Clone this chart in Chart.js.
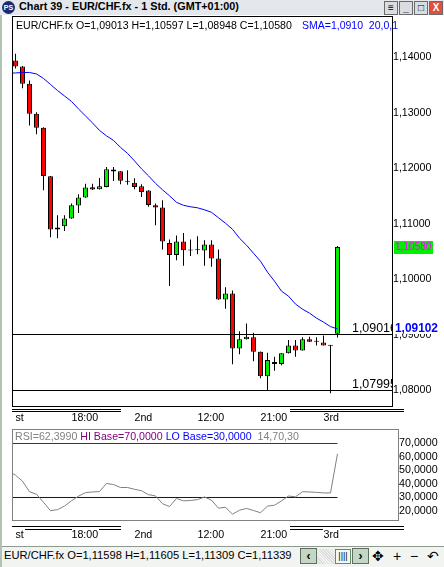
<!DOCTYPE html>
<html>
<head>
<meta charset="utf-8">
<script src="https://cdn.jsdelivr.net/npm/chart.js@4.4.1/dist/chart.umd.min.js"></script>
<style>
  html, body { margin: 0; padding: 0; background: #fff; }
  body { width: 444px; height: 567px; position: relative; overflow: hidden; font-family: 'Liberation Sans', Arial, sans-serif; }
  .abs { position: absolute; white-space: nowrap; line-height: 1; }
  #titlebar { left: 0; top: 0; width: 444px; height: 15px; background: #e4e8ed; }
  #icon { left: 2px; top: 1px; width: 13px; height: 13px; border-radius: 7px; background: #1b2b70; color: #fff; font: bold 7px 'Liberation Sans', Arial; text-align: center; line-height: 13px; }
  #title { left: 19px; top: 1px; font-weight: bold; font-size: 11px; color: #000; }
  .tb { top: 1px; width: 12px; height: 12px; border: 1px solid #6b6b6b; background: #d9dde2; font: bold 10px 'Liberation Sans', Arial; text-align: center; line-height: 12px; color: #000; }
  .hl { height: 1px; background: #000; }
  #status { left: 2px; top: 546px; width: 442px; height: 21px; background: #f1f4f1; border-top: 1px solid #8d9a8d; }
  .sb { top: 548px; width: 15px; height: 14px; border: 1px solid #5f6f5f; background: #c4d6c4; font: bold 12px 'Liberation Sans', Arial; text-align: center; line-height: 14px; }
  .ic { top: 549px; font-size: 14px; color: #000; }
  canvas { position: absolute; left: 0; }
</style>
</head>
<body>
<canvas id="main" width="444" height="430" style="top:0;width:444px;height:430px"></canvas>
<canvas id="rsi" width="444" height="125" style="top:420px;width:444px;height:125px"></canvas>

<div id="titlebar" class="abs"></div>
<div id="icon" class="abs">PS</div>
<div id="title" class="abs" data-w="220">Chart 39 - EUR/CHF.fx - 1 Std. (GMT+01:00)</div>
<div class="abs tb" style="left:384px">&#8801;</div>
<div class="abs tb" style="left:399px">_</div>
<div class="abs tb" style="left:414px">&#9633;</div>
<div class="abs tb" style="left:429px;background:#e0503c;color:#fff">X</div>
<div class="abs" style="left:0;top:15px;width:2px;height:552px;background:#b3c3b3"></div>

<div class="abs" data-w="276" style="left:16px;top:20px;font-size:11.5px;color:#000">EUR/CHF.fx O=1,09013 H=1,10597 L=1,08948 C=1,10580</div>
<div class="abs" data-w="96" style="left:302px;top:20px;font-size:11.5px;color:#0000ff">SMA=1,0910&nbsp; 20,0,1</div>

<div class="abs hl" style="left:12px;top:409px;width:109px"></div>
<div class="abs hl" style="left:12px;top:411px;width:109px"></div>
<div class="abs hl" style="left:290px;top:409px;width:114px"></div>
<div class="abs hl" style="left:290px;top:411px;width:114px"></div>

<div class="abs" data-w="284" style="left:15px;top:431px;font-size:10.5px">
  <span style="color:#808080">RSI=62,3990</span> <span style="color:#800080">HI Base=70,0000</span> <span style="color:#0000ff">LO Base=30,0000</span>&nbsp; <span style="color:#808080">14,70,30</span>
</div>

<div class="abs hl" style="left:12px;top:526px;width:109px"></div>
<div class="abs hl" style="left:25px;top:529px;width:47px"></div>
<div class="abs hl" style="left:99px;top:529px;width:22px"></div>
<div class="abs hl" style="left:290px;top:526px;width:114px"></div>
<div class="abs hl" style="left:290px;top:529px;width:33px"></div>
<div class="abs hl" style="left:340px;top:529px;width:64px"></div>

<div id="status" class="abs"></div>
<div class="abs" data-w="288" style="left:4px;top:550px;font-size:12px;color:#000">EUR/CHF.fx O=1,11598 H=1,11605 L=1,11309 C=1,11339</div>
<div class="abs sb" style="left:300px">&#8249;</div>
<div class="abs" style="left:317px;top:549px;width:18px;height:15px;background:repeating-linear-gradient(45deg,#dcdcdc 0 1px,#f4f4f4 1px 2px)"></div>
<div class="abs" style="left:335px;top:549px;width:14px;height:13px;border:1px solid #5f8f5f;background:#f4f8f4;font-size:9px;text-align:center;line-height:13px">||||</div>
<div class="abs sb" style="left:352px">&#8250;</div>
<div class="abs ic" style="left:372px">&#10021;</div>
<div class="abs ic" style="left:393px">+</div>
<div class="abs ic" style="left:410px">&minus;</div>
<div class="abs ic" style="left:427px">&#8630;</div>

<script>
const FAMILY = "'Liberation Sans', Arial, sans-serif";
Chart.defaults.font.family = FAMILY;
Chart.defaults.color = '#000';

// time axis
const xTickIdx = [0, 8, 17, 26, 35, 44];
const xTickText = ['st', '18:00', '2nd', '12:00', '21:00', '3rd'];
const priceTicks = [1.08, 1.09, 1.10, 1.11, 1.12, 1.13, 1.14];
const rsiTicks = [20, 30, 40, 50, 60, 70];

// hourly candles
const open  = [1.13946, 1.13838, 1.13526, 1.12986, 1.12733, 1.11856, 1.10895, 1.10955, 1.11094, 1.11328,
               1.11472, 1.11658, 1.11622, 1.11663, 1.11977, 1.11946, 1.11778, 1.11742, 1.11676, 1.11598,
               1.11333, 1.11292, 1.10654, 1.10438, 1.10679, 1.10523, 1.10528, 1.10517, 1.10625, 1.10373,
               1.09634, 1.09742, 1.08751, 1.08914, 1.08950, 1.08690, 1.08247, 1.08505, 1.08468, 1.08661,
               1.08805, 1.08715, 1.08914, 1.08870, 1.08859, 1.08805, 1.09013];
const high  = [1.14067, 1.13845, 1.13586, 1.13014, 1.12740, 1.11860, 1.11153, 1.11153, 1.11364, 1.11532,
               1.11724, 1.11724, 1.11825, 1.12023, 1.12023, 1.11950, 1.11964, 1.11820, 1.11712, 1.11605,
               1.11364, 1.11423, 1.10715, 1.10787, 1.10834, 1.10715, 1.10775, 1.10703, 1.10703, 1.10535,
               1.09856, 1.09796, 1.09058, 1.09202, 1.09032, 1.08695, 1.08672, 1.08600, 1.08665, 1.08901,
               1.08901, 1.08950, 1.08960, 1.08950, 1.08984, 1.08810, 1.10597];
const low   = [1.13802, 1.13447, 1.12775, 1.12613, 1.11604, 1.10757, 1.10739, 1.10870, 1.11090, 1.11195,
               1.11470, 1.11610, 1.11618, 1.11660, 1.11771, 1.11712, 1.11706, 1.11622, 1.11483, 1.11309,
               1.10973, 1.10535, 1.09879, 1.10342, 1.10240, 1.10420, 1.10450, 1.10240, 1.10222, 1.09630,
               1.09465, 1.08463, 1.08643, 1.08910, 1.08517, 1.08211, 1.07995, 1.08348, 1.08445, 1.08658,
               1.08600, 1.08712, 1.08868, 1.08805, 1.08802, 1.07941, 1.08948];
const close = [1.13838, 1.13526, 1.12986, 1.12733, 1.11861, 1.10895, 1.10932, 1.11094, 1.11333, 1.11472,
               1.11652, 1.11616, 1.11676, 1.11982, 1.11941, 1.11778, 1.11760, 1.11663, 1.11573, 1.11339,
               1.11292, 1.10679, 1.10438, 1.10679, 1.10523, 1.10517, 1.10522, 1.10625, 1.10373, 1.09634,
               1.09742, 1.08751, 1.08914, 1.08960, 1.08690, 1.08247, 1.08541, 1.08468, 1.08661, 1.08805,
               1.08715, 1.08914, 1.08870, 1.08874, 1.08805, 1.08800, 1.10580];

// SMA(20) and RSI(14), first value belongs to the bar just left of the view
const sma = [1.13717, 1.13721, 1.13730, 1.13730, 1.13703, 1.13622, 1.13514, 1.13405, 1.13306, 1.13207,
             1.13072, 1.12946, 1.12820, 1.12685, 1.12586, 1.12505, 1.12378, 1.12270, 1.12135, 1.11991,
             1.11865, 1.11730, 1.11613, 1.11505, 1.11387, 1.11333, 1.11306, 1.11288, 1.11252, 1.11207,
             1.11108, 1.11009, 1.10901, 1.10739, 1.10613, 1.10468, 1.10324, 1.10126, 1.09964, 1.09784,
             1.09694, 1.09550, 1.09459, 1.09387, 1.09297, 1.09225, 1.09144, 1.09102];
const rsi = [49.7, 46.5, 42.1, 34.3, 32.4, 26.5, 20.2, 21.0, 23.6, 27.6,
             31.0, 33.6, 34.1, 34.4, 40.4, 39.6, 37.4, 37.4, 36.1, 35.0,
             32.1, 31.2, 25.4, 23.3, 29.3, 27.5, 27.8, 28.4, 30.4, 28.0,
             22.1, 22.8, 17.6, 20.6, 21.9, 20.4, 18.7, 23.6, 24.3, 27.5,
             31.1, 30.5, 34.3, 34.1, 33.8, 33.4, 33.4, 62.4];
const hiBase = 70;
const loBase = 30;

// horizontal lines drawn on the price panel
const hLines = [1.09016, 1.07995];

const fmt = (v, d) => v.toFixed(d).replace('.', ',');
const idx = close.map((_, i) => i);
const last = close.length - 1;

// size the html texts to the widths they have in the screenshot
document.querySelectorAll('[data-w]').forEach(el => {
    const fs = parseFloat(getComputedStyle(el).fontSize);
    const w = el.getBoundingClientRect().width;
    el.style.fontSize = (fs * el.dataset.w / w).toFixed(2) + 'px';
});

// same for canvas texts
const mctx = document.createElement('canvas').getContext('2d');
function fitFont(text, target, size, weight = '') {
    mctx.font = `${weight} ${size}px ${FAMILY}`;
    return +(size * target / mctx.measureText(text).width).toFixed(2);
}
const priceTickSize = fitFont('1,14000', 38.3, 10.5);
const timeTickSize = fitFont('18:00', 26.7, 11);
const rsiTickSize = fitFont('70,0000', 38.7, 11);
const lineLabelSize = fitFont('1,07995', 45, 13);
const tagSize = fitFont('1,10580', 36.5, 10.5);
const smaTagSize = fitFont('1,09102', 43, 12, 'bold');

function bodyColor(i) {
    const d = close[i] - open[i];
    if (Math.abs(d) < 0.00008) return '#000';
    return d > 0 ? '#00ee00' : '#ff0000';
}

const framePlugin = {
    id: 'frame',
    afterDraw(chart, args, opts) {
        const { ctx, chartArea: a } = chart;
        ctx.save();
        ctx.strokeStyle = opts.color;
        ctx.lineWidth = 1;
        ctx.strokeRect(a.left + 0.5, a.top + 0.5, a.right - a.left - 1, a.bottom - a.top - 1);
        ctx.restore();
    }
};

const levelsPlugin = {
    id: 'levels',
    afterDatasetsDraw(chart) {
        const { ctx, chartArea: a, scales: { y } } = chart;
        ctx.save();
        ctx.beginPath();
        ctx.rect(a.left, a.top, a.right - a.left - 1, a.bottom - a.top);
        ctx.clip();
        ctx.strokeStyle = '#000';
        ctx.fillStyle = '#000';
        ctx.lineWidth = 1;
        ctx.font = `${lineLabelSize}px ${FAMILY}`;
        hLines.forEach(v => {
            const py = Math.round(y.getPixelForValue(v)) + 0.5;
            ctx.beginPath();
            ctx.moveTo(a.left, py);
            ctx.lineTo(a.right, py);
            ctx.stroke();
            ctx.fillText(fmt(v, 5), a.right - 41, py - 2.5);
        });
        ctx.restore();
    },
    afterDraw(chart) {
        const { ctx, chartArea: a, scales: { y } } = chart;
        ctx.save();
        ctx.textBaseline = 'middle';
        // last price tag
        const yc = y.getPixelForValue(close[last]);
        ctx.fillStyle = '#00ee00';
        ctx.fillRect(a.right + 1, Math.round(yc) - 6, 39, 13);
        ctx.fillStyle = '#ff00ff';
        ctx.font = `${tagSize}px ${FAMILY}`;
        ctx.fillText(fmt(close[last], 5), a.right + 2, yc + 0.5);
        // SMA tag
        const ys = y.getPixelForValue(sma[sma.length - 1]);
        ctx.fillStyle = '#fff';
        ctx.fillRect(a.right, Math.round(ys) - 6, 50, 11);
        ctx.fillStyle = '#0000ff';
        ctx.font = `bold ${smaTagSize}px ${FAMILY}`;
        ctx.fillText(fmt(sma[sma.length - 1], 5), a.right + 2, ys);
        ctx.restore();
    }
};

new Chart(document.getElementById('main'), {
    type: 'bar',
    data: {
        datasets: [
            {
                type: 'line',
                data: sma.map((v, k) => ({ x: k - 1, y: v })),
                borderColor: '#0000ff',
                borderWidth: 1,
                pointRadius: 0,
                tension: 0,
                order: 0
            },
            {
                data: idx.map(i => ({ x: i, y: [open[i], close[i]] })),
                backgroundColor: idx.map(bodyColor),
                borderColor: '#000',
                borderWidth: 1,
                borderSkipped: false,
                inflateAmount: 0,
                barThickness: 5,
                minBarLength: 1,
                grouped: false,
                order: 1
            },
            {
                data: idx.map(i => ({ x: i, y: [low[i], high[i]] })),
                backgroundColor: '#000',
                borderWidth: 0,
                inflateAmount: 0,
                barThickness: 1,
                grouped: false,
                order: 2
            }
        ]
    },
    options: {
        responsive: false,
        animation: false,
        events: [],
        layout: { padding: { left: 12, top: 16, right: 0, bottom: 0 } },
        plugins: { legend: { display: false }, tooltip: { enabled: false }, frame: { color: '#000' } },
        scales: {
            x: {
                type: 'linear', min: -0.5, max: 53.93, offset: false,
                grid: { display: false, drawTicks: false, offset: false },
                border: { display: false },
                afterBuildTicks: s => { s.ticks = xTickIdx.map(v => ({ value: v })); },
                afterFit: s => { s.height = 23; },
                ticks: {
                    autoSkip: false, maxRotation: 0, align: 'start', padding: 5,
                    font: { size: timeTickSize },
                    callback: v => xTickText[xTickIdx.indexOf(v)]
                }
            },
            y: {
                position: 'right', min: 1.076933, max: 1.147489,
                grid: { display: false, drawTicks: false },
                border: { display: false },
                afterBuildTicks: s => { s.ticks = priceTicks.map(v => ({ value: v })); },
                afterFit: s => { s.width = 51; },
                ticks: { padding: 0, font: { size: priceTickSize }, callback: v => fmt(v, 5) }
            }
        }
    },
    plugins: [framePlugin, levelsPlugin]
});

new Chart(document.getElementById('rsi'), {
    type: 'line',
    data: {
        datasets: [
            {
                data: rsi.map((v, k) => ({ x: k - 1, y: v })),
                borderColor: '#808080', borderWidth: 1, pointRadius: 0, order: 0
            },
            {
                data: [{ x: -1, y: hiBase }, { x: last, y: hiBase }],
                borderColor: '#800080', borderWidth: 1, pointRadius: 0, order: 1
            },
            {
                data: [{ x: -1, y: loBase }, { x: last, y: loBase }],
                borderColor: '#0000cc', borderWidth: 1, pointRadius: 0, order: 1
            }
        ]
    },
    options: {
        responsive: false,
        animation: false,
        events: [],
        layout: { padding: { left: 12, top: 9, right: 0, bottom: 0 } },
        plugins: { legend: { display: false }, tooltip: { enabled: false }, frame: { color: '#808080' } },
        scales: {
            x: {
                type: 'linear', min: -0.5, max: 54.786, offset: false,
                grid: { display: false, drawTicks: false },
                border: { display: false },
                afterBuildTicks: s => { s.ticks = xTickIdx.map(v => ({ value: v })); },
                afterFit: s => { s.height = 24; },
                ticks: {
                    autoSkip: false, maxRotation: 0, align: 'start', padding: 8,
                    font: { size: timeTickSize },
                    callback: v => xTickText[xTickIdx.indexOf(v)]
                }
            },
            y: {
                position: 'right', min: 12.5926, max: 80.7407,
                grid: { display: false, drawTicks: false },
                border: { display: false },
                afterBuildTicks: s => { s.ticks = rsiTicks.map(v => ({ value: v })); },
                afterFit: s => { s.width = 45; },
                ticks: { padding: 0, font: { size: rsiTickSize }, callback: v => fmt(v, 4) }
            }
        }
    },
    plugins: [framePlugin]
});
</script>
</body>
</html>
